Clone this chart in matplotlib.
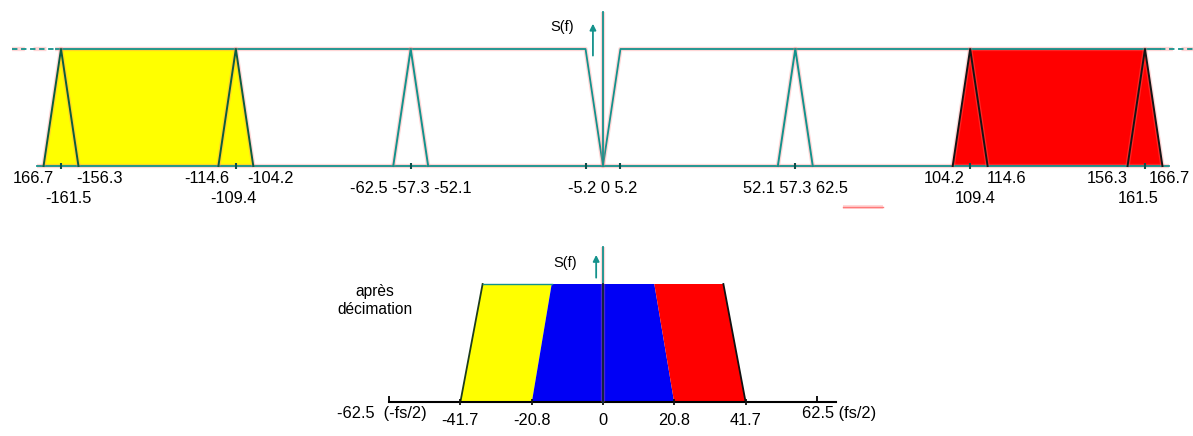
import matplotlib
matplotlib.use("Agg")
import matplotlib.pyplot as plt

plt.rcParams['font.family'] = ['Liberation Sans', 'DejaVu Sans']

# --- top spectrum (before decimation) ---
notch = [-5.2, 0, 5.2]                       # V around DC
img_lo = [-166.7, -114.6, -62.5, 52.1, 104.2, 156.3]
img_pk = [-161.5, -109.4, -57.3, 57.3, 109.4, 161.5]
img_hi = [-156.3, -104.2, -52.1, 62.5, 114.6, 166.7]
yellow_band = [-166.7, -161.5, -109.4, -104.2]
red_band = [104.2, 109.4, 161.5, 166.7]
top_span = [-176, -163, 166, 176]           # dashed / solid limits of the top line

# tick labels of the top spectrum
lab_lo = [-166.7, -114.6, 104.2, 156.3]
lab_lo_txt = ['166.7', '-114.6', '104.2', '156.3']
lab_hi = [-156.3, -104.2, 114.6, 166.7]
lab_row2 = [-161.5, -109.4, 109.4, 161.5]
lab_groups = [[-62.5, -57.3, -52.1], [-5.2, 0, 5.2], [52.1, 57.3, 62.5]]
stray = [71.5, 83.4]

# label nudges in pixels (the drawing is not to scale)
lo_dx = [10, 11, 12, 0]
hi_dx = [-2, -6, -1, -14]
row2_dx = [7, -2, 5, -7]

# --- bottom spectrum (after decimation) ---
dec_edges = [-41.7, -20.8, 20.8, 41.7]
dec_top = [-35.2, -15.0, 15.0, 35.2]
dec_ticks = [-41.7, -20.8, 0, 20.8, 41.7]
fs_half = 62.5
base_end = 68

teal = '#14928c'
halo = '#ff7a7a'
yellow = '#ffff00'
red = '#ff0000'
blue = '#0000f5'

fig = plt.figure(figsize=(11.93, 4.36), dpi=100)
ax1 = fig.add_axes([0, 0, 1, 1])
ax2 = fig.add_axes([0, 0, 1, 1])
for a in (ax1, ax2):
    a.axis('off')
    a.patch.set_alpha(0)

s1 = 3.356
ax1.set_xlim(-603 / s1, 590 / s1)
ax1.set_ylim(-270 / 117, 166 / 117)
s2 = 3.42
ax2.set_xlim(-603 / s2, 590 / s2)
ax2.set_ylim(-34 / 118, 402 / 118)


def tline(ax, x, y, c=teal, lw=1.3, ls='-'):
    ax.plot(x, y, color=halo, lw=lw + 1.8, alpha=0.3, ls=ls, solid_capstyle='butt')
    ax.plot(x, y, color=c, lw=lw, ls=ls)


# filled bands
y_b = [0, 1, 1, 0]
ax1.fill(yellow_band, y_b, color=yellow, lw=0)
ax1.fill(red_band, y_b, color=red, lw=0)

# top line with notch at DC
tline(ax1, [top_span[0], top_span[1]], [1, 1], ls=(0, (3, 2)))
tline(ax1, [top_span[1], notch[0], notch[1], notch[2], top_span[2]], [1, 1, 0, 1, 1])
tline(ax1, [top_span[2], top_span[3]], [1, 1], ls=(0, (3, 2)))
# baseline
tline(ax1, [img_lo[0] - 2, img_hi[-1] + 2], [0, 0])

# spectral images
for lo, pk, hi in zip(img_lo, img_pk, img_hi):
    if pk < -100:
        c = '#0c5c40'
    elif pk > 100:
        c = '#151515'
    else:
        c = teal
    tline(ax1, [lo, pk, hi], [0, 1, 0], c=c, lw=1.4)

# tick dots on the baseline
ax1.plot(img_pk + [notch[0], notch[2]], [0] * 8, ls='none', marker='|',
         ms=4, mew=1.5, color='#0f4f4a')

# S(f) axis
tline(ax1, [0, 0], [0, 1.316])
ax1.annotate('', xy=(-3.0, 1.24), xytext=(-3.0, 0.92),
             arrowprops=dict(arrowstyle='-|>', color=teal, lw=1.3, mutation_scale=9))
ax1.text(-12.2, 1.19, 'S(f)', ha='center', va='center', fontsize=10.5)

fs = 11.8
for x, t, dx in zip(lab_lo, lab_lo_txt, lo_dx):
    ax1.annotate(t, (x, 0), xytext=(dx, -12), textcoords='offset pixels',
                 ha='right', va='center', fontsize=fs)
for x, dx in zip(lab_hi, hi_dx):
    ax1.annotate(f'{x:g}', (x, 0), xytext=(dx, -12), textcoords='offset pixels',
                 ha='left', va='center', fontsize=fs)
for x, dx in zip(lab_row2, row2_dx):
    ax1.annotate(f'{x:g}', (x, 0), xytext=(dx, -32), textcoords='offset pixels',
                 ha='center', va='center', fontsize=fs)
for g in lab_groups:
    ax1.annotate(' '.join(f'{v:g}' for v in g), (g[1], 0), xytext=(0, -22),
                 textcoords='offset pixels', ha='center', va='center', fontsize=fs)

tline(ax1, stray, [-0.35, -0.35], c=halo, lw=1.0)

# --- after decimation ---
ax2.fill([dec_edges[0], dec_top[0], dec_top[1], dec_edges[1]], y_b, color=yellow, lw=0)
ax2.fill([dec_edges[1], dec_top[1], dec_top[2], dec_edges[2]], y_b, color=blue, lw=0)
ax2.fill([dec_edges[2], dec_top[2], dec_top[3], dec_edges[3]], y_b, color=red, lw=0)
ax2.plot([dec_edges[0], dec_top[0]], [0, 1], color='#1d3d1d', lw=1.3)
ax2.plot([dec_top[3], dec_edges[3]], [1, 0], color='#111111', lw=1.3)
ax2.plot([dec_top[0], dec_top[1]], [1, 1], color=teal, lw=1.0)

ax2.plot([-fs_half, base_end], [0, 0], color='black', lw=1.5)
ax2.plot([-fs_half, fs_half], [0.025, 0.025], ls='none', marker='|', ms=5, mew=1.3, color='black')
ax2.plot(dec_ticks, [0] * 5, ls='none', marker='|', ms=4, mew=1.3, color='#111111')

tline(ax2, [0, 0], [0, 1.314])
ax2.plot([0, 0], [0, 1], color='#101030', lw=1.2)
ax2.annotate('', xy=(-2.0, 1.27), xytext=(-2.0, 1.03),
             arrowprops=dict(arrowstyle='-|>', color=teal, lw=1.3, mutation_scale=9))
ax2.text(-11.1, 1.18, 'S(f)', ha='center', va='center', fontsize=10.5)
ax2.text(-66.7, 0.86, 'après\ndécimation', ha='center', va='center',
         fontsize=11.2, linespacing=1.3)

for x in dec_ticks:
    ax2.annotate(f'{x:g}', (x, 0), xytext=(0, -18), textcoords='offset pixels',
                 ha='center', va='center', fontsize=fs)
ax2.annotate(f'{-fs_half:g}  (-fs/2)', (-fs_half, 0), xytext=(-7, -11),
             textcoords='offset pixels', ha='center', va='center', fontsize=fs)
ax2.annotate(f'{fs_half:g} (fs/2)', (fs_half, 0), xytext=(-15, -11),
             textcoords='offset pixels', ha='left', va='center', fontsize=fs)

fig.savefig('out.png', dpi=100, facecolor='white')
